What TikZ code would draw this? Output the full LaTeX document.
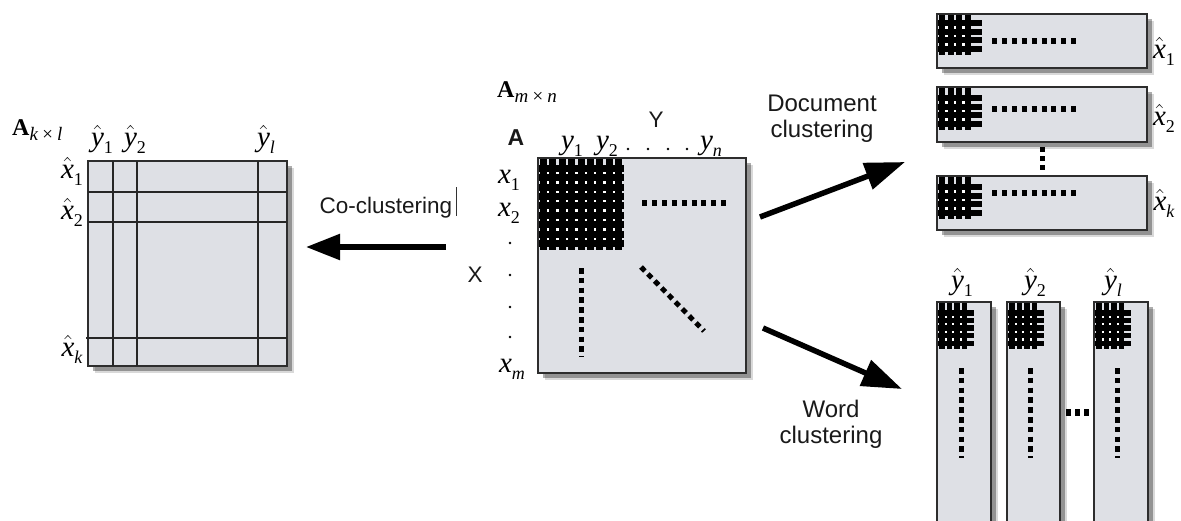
\RequirePackage{fix-cm}
\documentclass[tikz,border=0pt]{standalone}
\usepackage{fontspec}
\newfontfamily\sansf{Liberation Sans}
\newfontfamily\serf{Liberation Serif}
\usetikzlibrary{arrows.meta,shadows}
\definecolor{boxfill}{RGB}{222,224,229}
\definecolor{boxline}{RGB}{45,45,45}
\tikzset{
  mat/.style={draw=boxline, line width=1.8pt, fill=boxfill, inner sep=0pt, outer sep=0pt,
    drop shadow={shadow xshift=7pt, shadow yshift=-7pt, fill=black, opacity=0.15},
    drop shadow={shadow xshift=4.5pt, shadow yshift=-4.5pt, fill=black, opacity=0.32}},
  gridline/.style={line width=1.3pt, draw=black!85},
  sanslab/.style={font=\sansf\fontsize{22.5}{26}\selectfont, inner sep=0pt, text=black!90},
  mathlab/.style={font=\serf\fontsize{29}{32}\selectfont, inner sep=0pt},
  boldlab/.style={font=\serf\fontsize{24}{28}\selectfont, inner sep=0pt},
  bigarrow/.style={line width=5.5pt, -{Triangle[length=40pt,width=27pt]}},
  dotrow/.style={line width=6pt, dash pattern=on 5pt off 4.9pt},
  dotcol/.style={line width=5pt, dash pattern=on 5.5pt off 4.3pt}
}
\newcommand{\hv}[1]{$\hat{\mbox{\itshape #1}}$}
\newcommand{\sbs}[1]{\raisebox{-7pt}{\fontsize{18}{18}\selectfont #1}}
\newcommand{\bsbs}[1]{\raisebox{-5pt}{\fontsize{19}{19}\selectfont\itshape #1}}
% weave block: x0 y0 w h nx ny pitch bar
\newcommand{\weaveblock}[8]{%
  \pgfmathsetmacro{\wt}{#4-3-#8-(#6-1)*#7}%
  \fill[white] (#1+1,#2+\wt) rectangle ++({(#5-1)*#7+#8},{(#6-1)*#7+#8});
  \foreach \i in {1,...,#5} {\fill (#1+1+#7*\i-#7,#2) rectangle ++(#8,#4);}
  \foreach \j in {1,...,#6} {\fill (#1,#2+\wt+#7*\j-#7) rectangle ++(#3,#8);}
}
\begin{document}
\begin{tikzpicture}[x=1pt,y=-1pt]
\useasboundingbox (0,0) rectangle (1181,520);
\clip (0,0) rectangle (1181,520);

% ---------- left matrix ----------
\node[mat, minimum width=199pt, minimum height=205pt] (L) at (187.5,263.5) {};
\draw[gridline] (113,161) -- (113,366);
\draw[gridline] (137,161) -- (137,366);
\draw[gridline] (258,161) -- (258,366);
\draw[gridline] (88,192) -- (287,192);
\draw[gridline] (88,222) -- (287,222);
\draw[gridline] (86,338) -- (287,338);
\node[boldlab, anchor=base west] (Akl) at (12,135) {\textbf{A}\bsbs{k\,×\,l}};
\node[mathlab, anchor=base] (ly1) at (102,146) {\hv{y}\sbs{1}};
\node[mathlab, anchor=base] (ly2) at (135,146) {\hv{y}\sbs{2}};
\node[mathlab, anchor=base] (lyl) at (266,146) {\hv{y}\sbs{\itshape l}};
\node[mathlab, anchor=base] (lx1) at (72,178) {\hv{x}\sbs{1}};
\node[mathlab, anchor=base] (lx2) at (72,219) {\hv{x}\sbs{2}};
\node[mathlab, anchor=base] (lxk) at (72,356) {\hv{x}\sbs{\itshape k}};

% ---------- co-clustering ----------
\node[sanslab, anchor=base] (cotext) at (386,213) {Co-clustering};
\coordinate (curtop) at (456,187);
\coordinate (curbot) at (456,216);
\draw[line width=1pt, black!80] (curtop) -- (curbot);
\coordinate (co0) at (446,247);
\coordinate (co1) at (306,247);
\draw[bigarrow, -{Triangle[length=34pt,width=25pt]}] (co0) -- (co1);

% ---------- middle matrix ----------
\node[mat, minimum width=208pt, minimum height=215pt] (M) at (642,265.5) {};
\weaveblock{539}{159}{85}{91}{9}{9}{9.4}{7}
\draw[dotrow] (642,203) -- (731,203);
\draw[dotcol] (581,268) -- (581,357);
\draw[dotcol] (641,267) -- (704,331);
\node[boldlab, anchor=base west] (Amn) at (497,97) {\textbf{A}\bsbs{m\,×\,n}};
\node[sanslab, anchor=base, font=\sansf\bfseries\fontsize{23}{26}\selectfont] (Alab) at (516,145) {A};
\node[sanslab, anchor=base] (Ylab) at (656,127) {Y};
\node[sanslab, anchor=base] (Xlab) at (475,282) {X};
\node[mathlab, anchor=base] (my1) at (572,149) {\itshape y\sbs{\upshape 1}};
\node[mathlab, anchor=base] (my2) at (607,149) {\itshape y\sbs{\upshape 2}};
\node[mathlab, anchor=base] (myn) at (711,149) {\itshape y\sbs{n}};
\foreach \xx in {628,648,668,687} {\fill (\xx,149) circle (1.4);}
\node[mathlab, anchor=base] (mx1) at (509,183) {\itshape x\sbs{\upshape 1}};
\node[mathlab, anchor=base] (mx2) at (509,216) {\itshape x\sbs{\upshape 2}};
\node[mathlab, anchor=base] (mxm) at (512,372) {\itshape x\sbs{m}};
\foreach \yy in {243,275,307,337} {\fill (510,\yy) circle (1.4);}

% ---------- arrows to the right ----------
\node[sanslab, align=center, font=\sansf\fontsize{24}{26}\selectfont] (doctext) at (822,119) {Document\\clustering};
\coordinate (d0) at (760,217);
\coordinate (d1) at (905,162);
\draw[bigarrow] (d0) -- (d1);
\node[sanslab, align=center, font=\sansf\fontsize{24}{26}\selectfont] (wordtext) at (831,424) {Word\\clustering};
\coordinate (w0) at (763,328);
\coordinate (w1) at (902,389);
\draw[bigarrow] (w0) -- (w1);

% ---------- document clusters ----------
\node[mat, minimum width=210pt, minimum height=54pt] (R1) at (1042,41) {};
\node[mat, minimum width=210pt, minimum height=55pt] (R2) at (1042,114.5) {};
\node[mat, minimum width=210pt, minimum height=54pt] (R3) at (1042,203) {};
\weaveblock{938}{15}{44}{40}{4}{4}{8.6}{6}
\weaveblock{938}{88}{44}{42}{4}{4}{8.6}{6}
\weaveblock{938}{177}{44}{42}{4}{4}{8.6}{6}
\draw[dotrow] (992,41) -- (1081,41);
\draw[dotrow] (992,109) -- (1081,109);
\draw[dotrow] (992,193) -- (1081,193);
\draw[line width=5pt, dash pattern=on 5pt off 4pt] (1042,147) -- (1042,171);
\node[mathlab, anchor=base] (rx1) at (1164,58) {\hv{x}\sbs{1}};
\node[mathlab, anchor=base] (rx2) at (1164,125) {\hv{x}\sbs{2}};
\node[mathlab, anchor=base] (rxk) at (1164,210) {\hv{x}\sbs{\itshape k}};

% ---------- word clusters ----------
\node[mat, minimum width=54pt, minimum height=230pt] (C1) at (964,417) {};
\node[mat, minimum width=53pt, minimum height=230pt] (C2) at (1033.5,417) {};
\node[mat, minimum width=54pt, minimum height=230pt] (C3) at (1121,417) {};
\weaveblock{938}{303}{36}{46}{4}{5}{7.6}{5.5}
\weaveblock{1008}{303}{36}{46}{4}{5}{7.6}{5.5}
\weaveblock{1095}{303}{36}{46}{4}{5}{7.6}{5.5}
\draw[dotcol] (961,368) -- (961,458);
\draw[dotcol] (1030,368) -- (1030,458);
\draw[dotcol] (1117,368) -- (1117,458);
\draw[line width=7pt, dash pattern=on 5pt off 4pt] (1066,412) -- (1089,412);
\node[mathlab, anchor=base] (cy1) at (962,289) {\hv{y}\sbs{1}};
\node[mathlab, anchor=base] (cy2) at (1035,289) {\hv{y}\sbs{2}};
\node[mathlab, anchor=base] (cyl) at (1113,289) {\hv{y}\sbs{\itshape l}};
\end{tikzpicture}
\end{document}
